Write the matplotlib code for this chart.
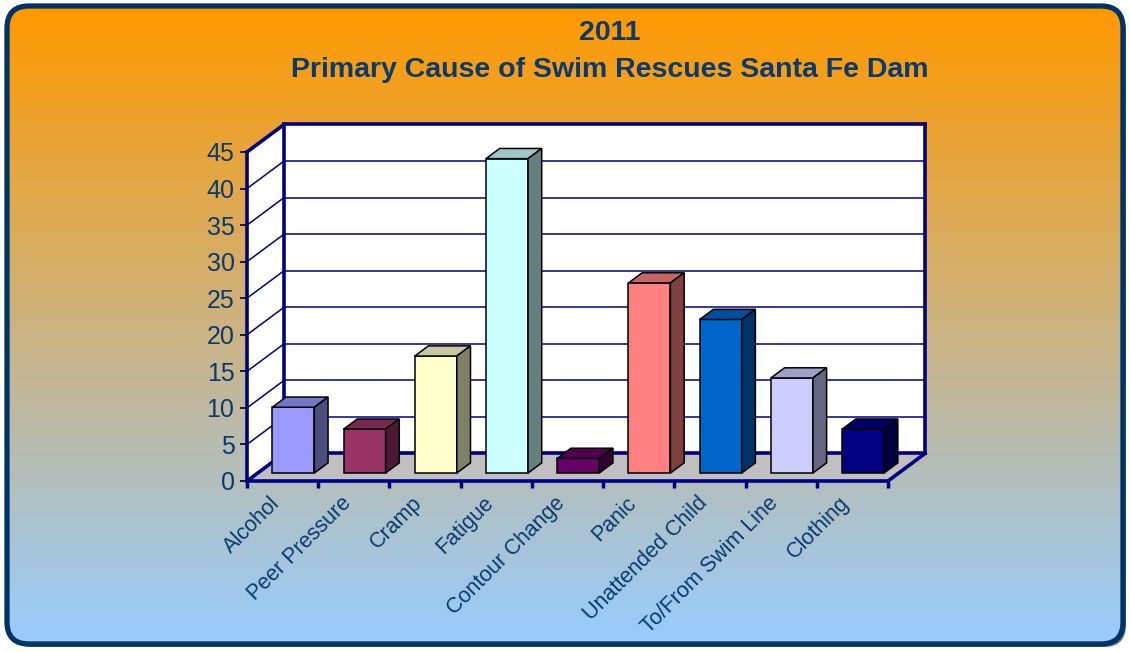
import numpy as np
import matplotlib
matplotlib.use("Agg")
from matplotlib import pyplot as plt
from matplotlib.patches import FancyBboxPatch, Polygon
from matplotlib.transforms import ScaledTranslation

plt.rcParams['font.family'] = ['Liberation Sans', 'DejaVu Sans']

# data
causes = ["Alcohol", "Peer Pressure", "Cramp", "Fatigue", "Contour Change",
          "Panic", "Unattended Child", "To/From Swim Line", "Clothing"]
rescues = [9, 6, 16, 43, 2, 26, 21, 13, 6]
barColors = ["#9999FF", "#993366", "#FFFFCC", "#CCFFFF", "#660066",
             "#FF8080", "#0066CC", "#CCCCFF", "#000080"]
yTicks = [0, 5, 10, 15, 20, 25, 30, 35, 40, 45]
titleYear = "2011"
titleText = "Primary Cause of Swim Rescues Santa Fe Dam"

W, H = 1130, 652
navy = "#000080"
txtCol = "#0A3A6E"

fig = plt.figure(figsize=(W/100, H/100), dpi=100)

# background box with orange -> light blue gradient
bg = fig.add_axes([0, 0, 1, 1])
bg.set_xlim(0, W); bg.set_ylim(H, 0); bg.axis("off")
top = np.array([255, 153, 0]) / 255.
bot = np.array([153, 204, 255]) / 255.
t = np.linspace(0, 1, 256)[:, None]
grad = (top[None, :] * (1 - t) + bot[None, :] * t)[:, None, :]
shadow = FancyBboxPatch((10, 9), 1116, 638, boxstyle="round,pad=0,rounding_size=22",
                        fc="#101820", ec="none", alpha=0.6, zorder=0)
bg.add_patch(shadow)
im = bg.imshow(grad, extent=[7, 1123, 644, 6], aspect="auto", zorder=1)
clip = FancyBboxPatch((7, 6), 1116, 638, boxstyle="round,pad=0,rounding_size=22",
                      fc="none", ec="none", transform=bg.transData)
im.set_clip_path(clip)
box = FancyBboxPatch((7, 6), 1116, 638, boxstyle="round,pad=0,rounding_size=22",
                     fc="none", ec="#003366", lw=3.8, zorder=2)
bg.add_patch(box)

fig.text(610/W, 1 - 33/H, titleYear, ha="center", va="center", fontsize=20.5,
         fontweight="bold", color=txtCol)
fig.text(610/W, 1 - 70/H, titleText, ha="center", va="center", fontsize=20.5,
         fontweight="bold", color=txtCol)

# main plot area: front floor from x=247..888 px, y 0 at 481, 45 at 152
ax = fig.add_axes([247/W, 1 - 481/H, 641/W, 329/H])
ax.set_xlim(0, 9)
ax.set_ylim(0, 45)
ax.patch.set_visible(False)
for s in ax.spines.values():
    s.set_visible(False)

DX = 37/71.2     # depth offset in category units
DY = 27.5/7.31   # depth offset in value units
n = len(causes)
ymax = yTicks[-1]

# walls and floor
ax.add_patch(Polygon([(0, 0), (n, 0), (n+DX, DY), (DX, DY)], closed=True,
                     fc="#C0C0C0", ec="none", clip_on=False, zorder=1))
ax.add_patch(Polygon([(DX, DY), (n+DX, DY), (n+DX, ymax+DY), (DX, ymax+DY)], closed=True,
                     fc="white", ec="none", clip_on=False, zorder=1))
ax.add_patch(Polygon([(0, 0), (DX, DY), (DX, ymax+DY), (0, ymax)], closed=True,
                     fc="white", ec="none", clip_on=False, zorder=1))
for v in yTicks[1:]:
    ax.plot([DX, n+DX], [v+DY, v+DY], color=navy, lw=1.1, clip_on=False, zorder=2)
    ax.plot([0, DX], [v, v+DY], color=navy, lw=1.1, clip_on=False, zorder=2)

edges = [([0, 0], [0, ymax]), ([0, DX], [ymax, ymax+DY]), ([DX, DX], [DY, ymax+DY]),
         ([DX, n+DX], [ymax+DY, ymax+DY]), ([n+DX, n+DX], [DY, ymax+DY]),
         ([DX, n+DX], [DY, DY]), ([0, DX], [0, DY]), ([0, n], [0, 0]),
         ([n, n+DX], [0, DY])]
for xs, ys in edges:
    ax.plot(xs, ys, color=navy, lw=2.6, solid_capstyle="projecting", clip_on=False, zorder=3)

# bars
f1 = 0.29       # front plane of bars (fraction of depth)
bd = 0.37       # bar depth (fraction of depth)
bw = 0.59
xc = np.arange(n) + 0.5 + f1*DX
ax.bar(xc, rescues, width=bw, bottom=f1*DY, color=barColors, edgecolor="black",
       linewidth=1.1, zorder=4, clip_on=False)
ddx, ddy = bd*DX, bd*DY


def shade(c, k):
    r = np.array(matplotlib.colors.to_rgb(c))
    return tuple(r * k)


for x, v, c in zip(xc, rescues, barColors):
    x0, x1 = x - bw/2, x + bw/2
    y0, y1 = f1*DY, f1*DY + v
    ax.add_patch(Polygon([(x0, y1), (x1, y1), (x1+ddx, y1+ddy), (x0+ddx, y1+ddy)],
                         closed=True, fc=shade(c, 0.78), ec="black", lw=1.1,
                         clip_on=False, zorder=4))
    ax.add_patch(Polygon([(x1, y0), (x1+ddx, y0+ddy), (x1+ddx, y1+ddy), (x1, y1)],
                         closed=True, fc=shade(c, 0.5), ec="black", lw=1.1,
                         clip_on=False, zorder=4))

ax.set_yticks(yTicks)
ax.set_yticklabels([str(v) for v in yTicks])
ax.tick_params(axis="y", length=5, width=1.2, color="black", pad=4,
               labelsize=18, labelcolor=txtCol)
ax.set_xticks(np.arange(n+1))
ax.set_xticklabels([])
ax.tick_params(axis="x", length=5, width=2.5, color=navy)

off = ax.transData + ScaledTranslation(-6/100, -19/100, fig.dpi_scale_trans)
for i, lab in enumerate(causes):
    ax.text(i + 0.5, 0, lab, transform=off, rotation=45, rotation_mode="anchor",
            ha="right", va="center", fontsize=15.5, color=txtCol)

fig.savefig("out.png", dpi=100, facecolor="white")
